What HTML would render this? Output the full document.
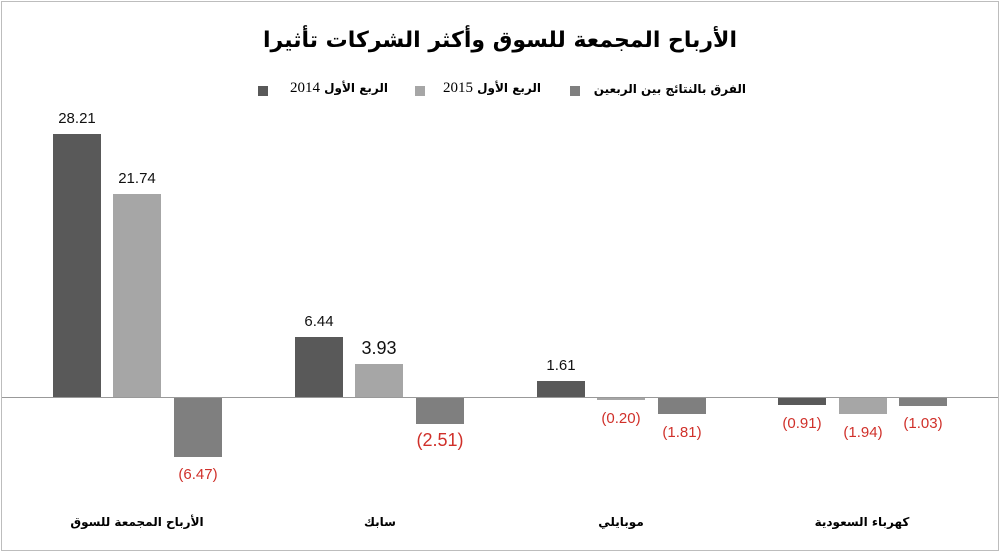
<!DOCTYPE html>
<html><head><meta charset="utf-8"><style>
body{margin:0;width:1000px;height:552px;background:#fff;position:relative;overflow:hidden;font-family:"Liberation Sans","Noto Sans CJK SC",sans-serif}
.frame{position:absolute;left:1px;top:1px;width:996px;height:548px;border:1px solid #bdbdbd}
.b{position:absolute;width:48px}
.d{background:#595959}.l{background:#a6a6a6}.m{background:#7f7f7f}
.v{position:absolute;width:80px;text-align:center;font-size:15px;color:#111}
.r{color:#d0302a}
.t{position:absolute;font-weight:bold;white-space:nowrap;direction:rtl;font-family:"DejaVu Sans",sans-serif}
.y{font-family:"Liberation Serif",serif;font-weight:normal;font-size:15px}
.sq{position:absolute;width:10px;height:10px;top:86px}
</style></head><body>
<div class="frame"></div>
<div class="t" style="left:0;width:1000px;text-align:center;top:28px;font-size:22px;direction:rtl">الأرباح المجمعة للسوق وأكثر الشركات تأثيرا</div>
<div class="sq d" style="left:258px"></div><div class="t" style="left:272px;top:80px;font-size:12px;width:116px;text-align:right">الربع الأول <span class="y">2014</span></div>
<div class="sq l" style="left:415px"></div><div class="t" style="left:429px;top:80px;font-size:12px;width:112px;text-align:right">الربع الأول <span class="y">2015</span></div>
<div class="sq m" style="left:570px"></div><div class="t" style="left:584px;top:82px;font-size:12px;width:162px;text-align:right">الفرق بالنتائج بين الربعين</div>
<div style="position:absolute;left:2px;width:996px;top:397px;height:1px;background:#999"></div>

<div class="b d" style="left:53px;top:134px;height:263px"></div>
<div class="b l" style="left:113px;top:194px;height:203px"></div>
<div class="b m" style="left:174px;top:398px;height:59px"></div>
<div class="v" style="left:37px;top:110px">28.21</div>
<div class="v" style="left:97px;top:170px">21.74</div>
<div class="v r" style="left:158px;top:466px">(6.47)</div>

<div class="b d" style="left:295px;top:337px;height:60px"></div>
<div class="b l" style="left:355px;top:364px;height:33px"></div>
<div class="b m" style="left:416px;top:398px;height:26px"></div>
<div class="v" style="left:279px;top:313px">6.44</div>
<div class="v" style="left:339px;top:338px;font-size:18px">3.93</div>
<div class="v r" style="left:400px;top:430px;font-size:18px">(2.51)</div>

<div class="b d" style="left:537px;top:381px;height:16px"></div>
<div class="b l" style="left:597px;top:398px;height:2px"></div>
<div class="b m" style="left:658px;top:398px;height:16px"></div>
<div class="v" style="left:521px;top:357px">1.61</div>
<div class="v r" style="left:581px;top:410px">(0.20)</div>
<div class="v r" style="left:642px;top:424px">(1.81)</div>

<div class="b d" style="left:778px;top:398px;height:7px"></div>
<div class="b l" style="left:839px;top:398px;height:16px"></div>
<div class="b m" style="left:899px;top:398px;height:8px"></div>
<div class="v r" style="left:762px;top:415px">(0.91)</div>
<div class="v r" style="left:823px;top:424px">(1.94)</div>
<div class="v r" style="left:883px;top:415px">(1.03)</div>

<div class="t" style="left:37px;width:200px;text-align:center;top:515px;font-size:12px;direction:rtl">الأرباح المجمعة للسوق</div>
<div class="t" style="left:280px;width:200px;text-align:center;top:515px;font-size:12px">سابك</div>
<div class="t" style="left:521px;width:200px;text-align:center;top:515px;font-size:12px">موبايلي</div>
<div class="t" style="left:762px;width:200px;text-align:center;top:515px;font-size:12px">كهرباء السعودية</div>
</body></html>
